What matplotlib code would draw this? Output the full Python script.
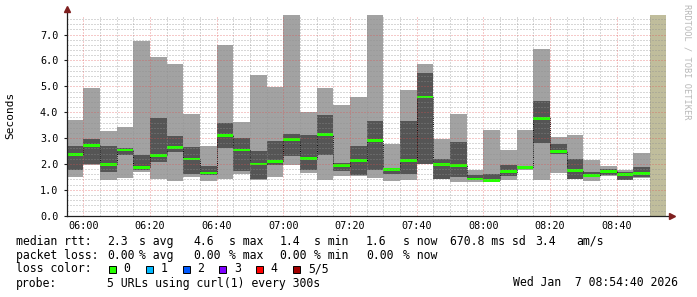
# smokeping style latency graph: smoke bands, median line, legend below
import matplotlib
matplotlib.use('Agg')
import matplotlib.pyplot as plt
import numpy as np

# bin start times (5 minute steps)
slots = ['05:55', '06:00', '06:05', '06:10', '06:15', '06:20', '06:25', '06:30',
         '06:35', '06:40', '06:45', '06:50', '06:55', '07:00', '07:05', '07:10',
         '07:15', '07:20', '07:25', '07:30', '07:35', '07:40', '07:45', '07:50',
         '07:55', '08:00', '08:05', '08:10', '08:15', '08:20', '08:25', '08:30',
         '08:35', '08:40', '08:45']

# sorted pings per bin (seconds): max, 4th, median, 2nd, min
ping_max = [3.70, 4.94, 3.27, 3.43, 6.75, 6.13, 5.86, 3.93, 2.69, 6.60, 3.62, 5.44,
            4.97, 7.76, 4.01, 4.94, 4.28, 4.59, 7.76, 2.77, 4.86, 5.86, 2.96, 3.93,
            1.77, 3.32, 2.54, 3.31, 6.44, 3.04, 3.12, 2.15, 1.92, 1.77, 2.42]
ping_hi = [2.71, 2.96, 2.71, 2.60, 2.35, 3.78, 3.08, 2.65, 1.93, 3.58, 3.02, 2.51,
           2.89, 3.16, 3.12, 3.89, 2.02, 2.69, 3.66, 1.80, 3.66, 5.52, 2.18, 2.85,
           1.57, 1.61, 1.96, 1.90, 4.43, 2.77, 2.19, 1.68, 1.80, 1.69, 1.88]
median = [2.37, 2.72, 1.98, 2.54, 1.87, 2.33, 2.63, 2.19, 1.65, 3.11, 2.54, 2.00,
          2.11, 2.93, 2.20, 3.13, 1.93, 2.15, 2.90, 1.78, 2.15, 4.59, 1.97, 1.95,
          1.42, 1.37, 1.70, 1.87, 3.76, 2.49, 1.74, 1.56, 1.71, 1.60, 1.64]
ping_lo = [1.78, 2.00, 1.69, 2.35, 1.77, 2.07, 2.47, 1.61, 1.58, 2.62, 1.73, 1.40,
           1.97, 2.31, 1.77, 2.36, 1.74, 1.57, 1.77, 1.62, 1.61, 2.00, 1.41, 1.49,
           1.38, 1.33, 1.55, 1.80, 2.82, 2.37, 1.42, 1.51, 1.58, 1.39, 1.49]
ping_min = [1.51, 1.96, 1.38, 1.47, 1.70, 1.42, 1.34, 1.51, 1.34, 1.42, 1.61, 1.37,
            1.49, 1.95, 1.66, 1.38, 1.55, 1.55, 1.47, 1.34, 1.38, 2.00, 1.40, 1.30,
            1.31, 1.30, 1.38, 1.75, 1.38, 1.66, 1.41, 1.34, 1.55, 1.38, 1.47]

x_ticks = ['06:00', '06:20', '06:40', '07:00', '07:20', '07:40', '08:00', '08:20', '08:40']

loss_labels = ['0', '1', '2', '3', '4', '5/5']
loss_colors = ['#26ff00', '#00b8ff', '#0059ff', '#7e00ff', '#ff0000', '#a10000']


def to_min(s):
    # minutes relative to 06:00
    h, m = s.split(':')
    return (int(h) - 6) * 60 + int(m)


starts = np.array([to_min(s) for s in slots], dtype=float)
ping_max = np.array(ping_max)
ping_hi = np.array(ping_hi)
median = np.array(median)
ping_lo = np.array(ping_lo)
ping_min = np.array(ping_min)

W, H = 697, 297
fig = plt.figure(figsize=(W / 100, H / 100), dpi=100)
fig.patch.set_facecolor('white')
ax = fig.add_axes([66.7 / W, (H - 215.7) / H, 600 / W, 201 / H])
mono = 'DejaVu Sans Mono'

# smoke
ax.bar(starts, ping_max - ping_min, bottom=ping_min, width=5, align='edge',
       color='#a2a2a2', linewidth=0, zorder=1)
ax.bar(starts, ping_hi - ping_lo, bottom=ping_lo, width=5, align='edge',
       color='#555555', linewidth=0, zorder=1.1)
edges = np.append(starts, starts[-1] + 5)
ax.stairs(median, edges, baseline=None, color='black', linestyle=(0, (1, 1)),
          linewidth=0.7, zorder=1.2)
ax.bar(starts, 0.11, bottom=median - 0.055, width=5, align='edge',
       color=loss_colors[0], linewidth=0, zorder=1.3)

# unknown-data area at the end
ax.axvspan(170, 174.7, color='#c0bd9c', linewidth=0, zorder=1)

ax.set_xlim(-5, 175)
ax.set_ylim(0, 7.77)

# grid on top, rrdtool style
grid_c = (0.56, 0.56, 0.56, 0.7)
mgrid_c = (0.87, 0.31, 0.31, 0.60)
for v in np.arange(0, 176, 5):
    if v % 20 != 0:
        ax.axvline(v, color=grid_c, lw=0.72, ls=(0, (1, 2)), zorder=3)
for v in np.arange(0.2, 7.8, 0.2):
    if abs(v - round(v)) > 1e-6:
        ax.axhline(v, color=grid_c, lw=0.72, ls=(0, (1, 2)), zorder=3)
for v in range(0, 161, 20):
    ax.axvline(v, color=mgrid_c, lw=0.72, ls=(0, (1, 2)), zorder=3.1)
for v in range(1, 8):
    ax.axhline(v, color=mgrid_c, lw=0.72, ls=(0, (1, 2)), zorder=3.1)

for s in ax.spines.values():
    s.set_visible(False)

ax.set_xticks([to_min(t) for t in x_ticks])
ax.set_xticklabels(x_ticks, family=mono, fontsize=7.3)
ax.set_yticks(range(8))
ax.set_yticklabels(['%.1f' % v for v in range(8)], family=mono, fontsize=7.3)
ax.tick_params(axis='x', length=0, pad=4)
ax.tick_params(axis='y', length=2, color='#1f1f1f', pad=4)

# axes with arrows
ax.plot([-5, 176], [0, 0], color='#1f1f1f', lw=0.9, clip_on=False, zorder=4)
ax.plot([-5, -5], [0, 7.9], color='#1f1f1f', lw=0.9, clip_on=False, zorder=4)
ax.plot([176.6], [0], marker='>', color='#7f1f1f', markersize=4, clip_on=False, zorder=5)
ax.plot([-5], [7.98], marker='^', color='#7f1f1f', markersize=4, clip_on=False, zorder=5)

fig.text(10 / W, 1 - 115 / H, 'Seconds', rotation=90, family=mono, fontsize=8,
         ha='center', va='center')
fig.text(687 / W, 1 - 4 / H, 'RRDTOOL / TOBI OETIKER', rotation=270, family=mono,
         fontsize=6.2, color='#b8b8b8', ha='center', va='top')


# legend block
def put(x, y, s, **kw):
    fig.text(x / W, 1 - y / H, s, family=mono, fontsize=8.3, va='center', ha='left', **kw)


y1, y2, y3, y4 = 241.5, 255.3, 269.0, 283.0
row1 = [(16, 'median rtt:'), (107.3, '2.3'), (139.3, 's avg'), (193.3, '4.6'),
        (229.3, 's max'), (279.3, '1.4'), (314, 's min'), (366, '1.6'),
        (403.3, 's now'), (450, '670.8 ms sd'), (535.3, '3.4'), (576.7, 'am/s')]
row2 = [(16, 'packet loss:'), (107.3, '0.00'), (139.3, '% avg'), (193.3, '0.00'),
        (229.3, '% max'), (279.3, '0.00'), (314, '% min'), (366, '0.00'),
        (403.3, '% now')]
for x, s in row1:
    put(x, y1, s)
for x, s in row2:
    put(x, y2, s)

put(16, y3, 'loss color:')
box_x = [108.7, 145.7, 182.7, 219.3, 256, 293.3]
for bx, lab, col in zip(box_x, loss_labels, loss_colors):
    fig.patches.append(plt.Rectangle((bx / W, 1 - (y3 + 3.5) / H), 6.8 / W, 7 / H,
                                     transform=fig.transFigure, facecolor=col,
                                     edgecolor='black', linewidth=0.7))
    put(bx + 14.5, y3, lab)

put(16, y4, 'probe:')
put(107.3, y4, '5 URLs using curl(1) every 300s')
put(512.7, y4, 'Wed Jan  7 08:54:40 2026')

fig.savefig('out.png', dpi=100, facecolor='white')
